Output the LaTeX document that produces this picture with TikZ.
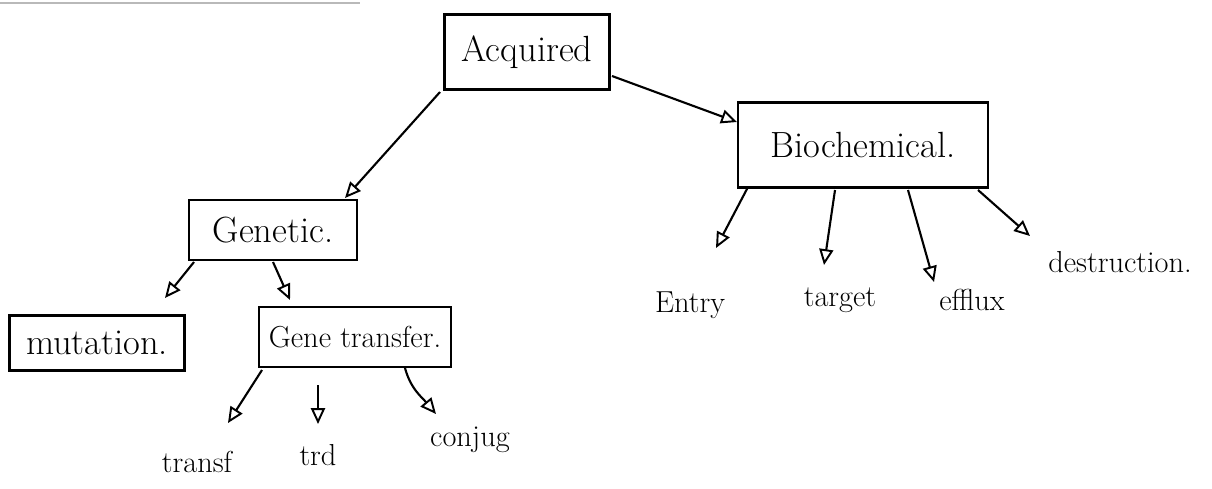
\documentclass[tikz,border=0pt]{standalone}
\usetikzlibrary{arrows.meta,calc}
\begin{document}
\begin{tikzpicture}[x=0.02cm,y=-0.02cm,
  box/.style={draw,line width=1.2pt,inner sep=0pt,font=\huge},
  lbl/.style={inner sep=0pt,font=\LARGE},
  link/.style={line width=1.2pt,-{Triangle[open,length=9pt,width=8pt,line width=1.1pt]}}]
\useasboundingbox[fill=white] (0,0) rectangle (1212,488);
% torn page edge at the top
\draw[gray!55,line width=1pt] (0,3) -- (360,3);

% boxes
\node[box,minimum width=3.3cm,minimum height=1.5cm] (acq) at (527,52) {Acquired};
\node[box,minimum width=5cm,minimum height=1.7cm] (bio) at (863,145) {Biochemical.};
\node[box,minimum width=3.36cm,minimum height=1.2cm] (gen) at (273,230) {Genetic.};
\node[box,minimum width=3.5cm,minimum height=1.1cm] (mut) at (97,343) {mutation.};
\node[box,font=\LARGE,minimum width=3.84cm,minimum height=1.2cm] (gt) at (355,337) {Gene transfer.};

% leaf labels
\node[lbl] (tf) at (197,462) {transf};
\node[lbl] (td) at (318,455) {trd};
\node[lbl] (cj) at (470,440) {conjug};
\node[lbl] (en) at (690,305) {Entry};
\node[lbl] (tg) at (840,300) {target};
\node[lbl] (ef) at (972,300) {efflux};
\node[lbl] (de) at (1120,262) {destruction.};

% connectors
\draw[link] ($(acq)+(85,24)$) -- ($(bio)+(-126,-23)$);
\draw[link] ($(acq)+(-87,40)$) -- ($(gen)+(72,-32)$);
\draw[link] ($(gen)+(-79,32)$) -- ($(mut)+(68,-45)$);
\draw[link] ($(gen)+(0,32)$) -- ($(gt)+(-65,-37)$);
\draw[link] ($(gt)+(-93,33)$) -- ($(tf)+(31,-39)$);
\draw[link] ($(gt)+(-37,48)$) -- ($(td)+(0,-31)$);
\draw[link] ($(gt)+(50,31)$) to[out=-75,in=130] ($(cj)+(-34,-26)$);
\draw[link] ($(bio)+(-115,42)$) -- ($(en)+(26,-57)$);
\draw[link] ($(bio)+(-28,45)$) -- ($(tg)+(-16,-35)$);
\draw[link] ($(bio)+(45,45)$) -- ($(ef)+(-38,-18)$);
\draw[link] ($(bio)+(115,45)$) -- ($(de)+(-90,-26)$);
\end{tikzpicture}
\end{document}
